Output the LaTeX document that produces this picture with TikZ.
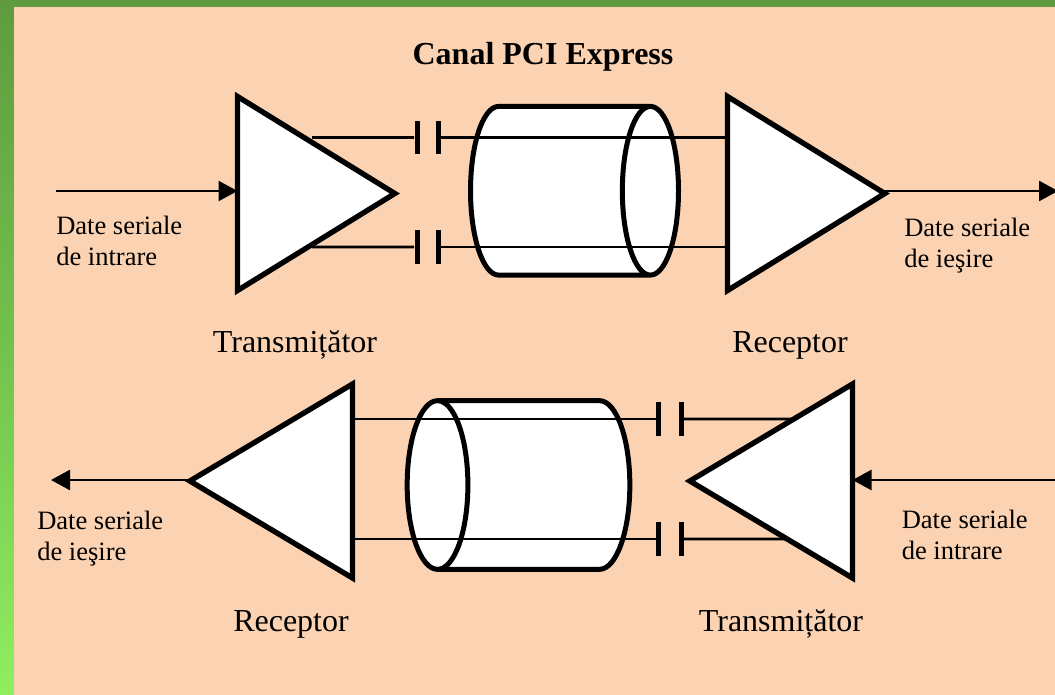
\documentclass[tikz,border=0pt]{standalone}
\usepackage{fontspec}
\setmainfont{Liberation Serif}
\usetikzlibrary{arrows.meta,shapes.geometric}
\definecolor{peach}{HTML}{FCD3B2}
\definecolor{darkgreen}{HTML}{5F9B3E}
\definecolor{midgreen}{HTML}{72C24E}
\definecolor{lightgreen}{HTML}{90EE60}
\tikzset{
  amp/.style={isosceles triangle, isosceles triangle stretches, draw, fill=white, line width=4pt,
    minimum width=145.5pt, minimum height=118pt, inner sep=0pt, outer sep=0pt, anchor=lower side},
  cable/.style={cylinder, draw, fill=white, line width=3.75pt, outer sep=0pt,
    inner xsep=0pt, inner ysep=63.25pt, shape aspect=.333, anchor=shape center},
  plate/.style={fill=black, minimum width=3.75pt, minimum height=25pt, inner sep=0pt},
  wire/.style={line width=1.9pt},
  flow/.style={line width=1.9pt, -{Triangle[length=14.25pt,width=15pt]}},
  small/.style={font=\fontsize{19.9}{23.25}\selectfont, align=left, anchor=west, inner sep=0pt},
  big/.style={font=\fontsize{24}{28}\selectfont, inner sep=0pt}
}
\begin{document}
\begin{tikzpicture}[x=.75pt,y=-.75pt]
\useasboundingbox (0,0) rectangle (1055,695);
\shade[top color=darkgreen, bottom color=lightgreen, middle color=midgreen] (0,0) rectangle (14,695);
\fill[darkgreen] (0,0) rectangle (1055,7);
\fill[peach] (14,7) rectangle (1055,695);
\node[font=\fontsize{24}{28}\selectfont\bfseries, inner sep=0pt] (title) at (543,57) {Canal PCI Express};
% upper link
\node[cable, minimum height=156pt] (cable1) at (574.5,190.75) {};
\node[amp] (tx1) at (237.5,193.5) {};
\node[amp] (rx1) at (727.5,193.5) {};
\node[plate] (c1) at (417,137.5) {};
\node[plate] (c2) at (438,137.5) {};
\node[plate] (c3) at (417,247) {};
\node[plate] (c4) at (438,247) {};
\draw[wire] ([xshift=6pt]intersection of tx1.apex--tx1.left corner and c1--c2) -- (c1);
\draw[wire] (c2) -- (rx1.lower side |- c2);
\draw[wire] ([xshift=3pt]intersection of tx1.apex--tx1.right corner and c3--c4) -- (c3);
\draw[wire] (c4) -- (rx1.lower side |- c4);
\coordinate (in1) at (56,191);
\coordinate (out1) at (1058,191);
\draw[flow] (in1) -- (in1 -| tx1.lower side);
\draw[flow] (rx1.apex |- out1) -- (out1);
\node[small] (lbl1) at (56,241) {Date seriale\\de intrare};
\node[small] (lbl2) at (904,245.5) {Date seriale\\de ieşire};
\node[big] (lbl3) at (295,345) {Transmițător};
\node[big] (lbl4) at (790,345) {Receptor};
% lower link
\node[cable, minimum height=167pt, shape aspect=.36, shape border rotate=180] (cable2) at (518.5,485) {};
\node[amp, minimum height=122pt, shape border rotate=180] (rx2) at (352.5,481) {};
\node[amp, minimum height=122pt, shape border rotate=180] (tx2) at (852.5,481) {};
\node[plate] (c5) at (658.5,419) {};
\node[plate] (c6) at (681,419) {};
\node[plate] (c7) at (658.5,539) {};
\node[plate] (c8) at (681,539) {};
\draw[wire] (rx2.lower side |- c5) -- (c5);
\draw[wire] (c6) -- (intersection of tx2.apex--tx2.right corner and c5--c6);
\draw[wire] (rx2.lower side |- c7) -- (c7);
\draw[wire] (c8) -- (intersection of tx2.apex--tx2.left corner and c7--c8);
\coordinate (in2) at (1055,480);
\coordinate (out2) at (51,480);
\draw[flow] (in2) -- (in2 -| tx2.lower side);
\draw[flow] (rx2.apex |- out2) -- (out2);
\node[small] (lbl5) at (37,538.5) {Date seriale\\de ieşire};
\node[small] (lbl6) at (901.5,534.5) {Date seriale\\de intrare};
\node[big] (lbl7) at (291,624) {Receptor};
\node[big] (lbl8) at (781,624) {Transmițător};
\end{tikzpicture}
\end{document}
